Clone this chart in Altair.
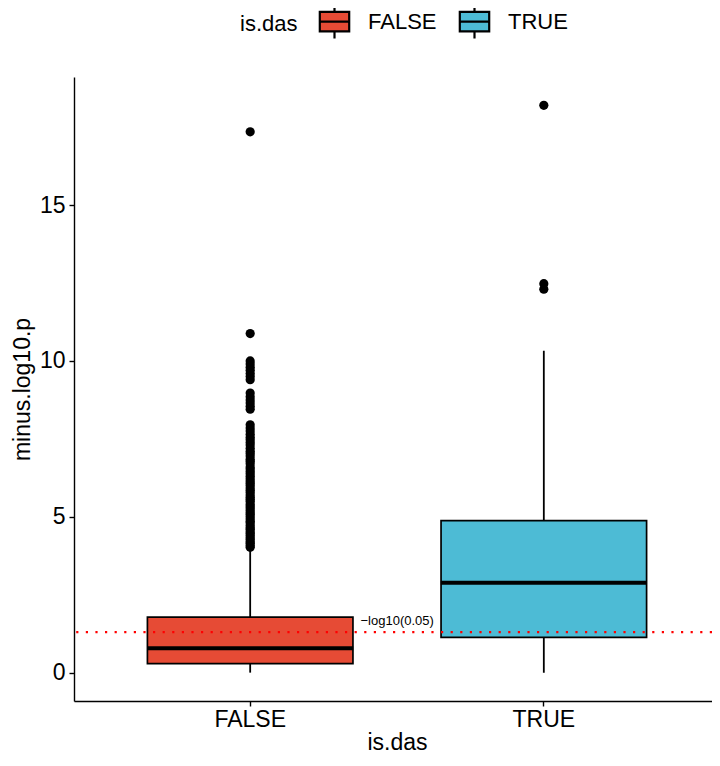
import altair as alt
import pandas as pd

# ---- data ----
groups = ["FALSE", "TRUE"]
colors = ["#E64B35", "#4DBBD5"]
lower_whisker = [0.0, 0.0]
q1 = [0.29, 1.13]
median = [0.78, 2.88]
q3 = [1.78, 4.88]
upper_whisker = [3.95, 10.33]

outliers_false = [4.02, 4.08, 4.15, 4.2, 4.27, 4.33, 4.4, 4.46, 4.52, 4.6, 4.65,
                  4.72, 4.8, 4.86, 4.93, 5.0, 5.07, 5.13, 5.2, 5.28, 5.35, 5.41,
                  5.5, 5.56, 5.63, 5.7, 5.78, 5.85, 5.92, 6.0, 6.08, 6.15, 6.22,
                  6.3, 6.38, 6.45, 6.53, 6.6, 6.7, 6.78, 6.85, 6.95, 7.03, 7.1,
                  7.2, 7.3, 7.38, 7.47, 7.55, 7.65, 7.75, 7.85, 7.95, 8.45, 8.55,
                  8.65, 8.75, 8.85, 8.97, 9.4, 9.5, 9.6, 9.7, 9.8, 9.9, 10.0,
                  10.88, 17.35]
outliers_true = [12.3, 12.48, 18.2]

threshold = [1.301]
threshold_label = ["\u2212log10(0.05)"]

y_domain = [-0.91, 19.11]
y_ticks = [0, 5, 10, 15]

# ---- tables ----
box_df = pd.DataFrame({
    "grp": groups, "lo": lower_whisker, "q1": q1, "med": median,
    "q3": q3, "hi": upper_whisker,
})
out_df = pd.DataFrame({
    "grp": ["FALSE"] * len(outliers_false) + ["TRUE"] * len(outliers_true),
    "val": outliers_false + outliers_true,
})
thr_df = pd.DataFrame({"grp": ["FALSE"], "y": threshold, "label": threshold_label})

font = "Liberation Sans"
FS = 23

x_scale = alt.Scale(domain=groups, range=[0, 646], paddingInner=0.3, paddingOuter=0.25)
y_scale = alt.Scale(domain=y_domain, nice=False, zero=False)

x_enc = alt.X("grp:N", scale=x_scale,
              axis=alt.Axis(title="is.das", labelAngle=0, labelPadding=2,
                            titlePadding=0))
y_axis = alt.Axis(title="minus.log10.p", values=y_ticks, grid=False, titlePadding=5)

whiskers = alt.Chart(box_df).mark_rule(color="black", strokeWidth=1.8).encode(
    x=x_enc,
    y=alt.Y("lo:Q", scale=y_scale, axis=y_axis),
    y2="hi:Q",
)

legend_path = "M-1.05,-0.7H1.05V0.7H-1.05Z M-1.05,0H1.05 M0,-0.7V-1.2 M0,0.7V1.2"

boxes = alt.Chart(box_df).mark_bar(stroke="black", strokeWidth=1.7, opacity=1).encode(
    x=x_enc,
    y=alt.Y("q1:Q", scale=y_scale),
    y2="q3:Q",
    color=alt.Color(
        "grp:N",
        scale=alt.Scale(domain=groups, range=colors),
        legend=alt.Legend(
            title="is.das", orient="none", direction="horizontal",
            legendX=166, legendY=-71, titleOrient="left",
            symbolType=legend_path, symbolSize=784,
            symbolStrokeColor="black", symbolStrokeWidth=2.2,
            symbolOpacity=1,
            labelOffset=18, columnPadding=18, titlePadding=21,
            labelFontSize=22, titleFontSize=22, labelFont=font, titleFont=font,
            titleFontWeight="normal", labelColor="black", titleColor="black",
            titleBaseline="middle",
        ),
    ),
)

medians = alt.Chart(box_df).mark_tick(color="black", thickness=4, size=206, opacity=1).encode(
    x=x_enc,
    y=alt.Y("med:Q", scale=y_scale),
)

points = alt.Chart(out_df).mark_circle(color="black", size=85, opacity=1).encode(
    x=x_enc,
    y=alt.Y("val:Q", scale=y_scale),
)

thr_line = alt.Chart(thr_df).mark_rule(color="#FF0000", strokeWidth=2.2,
                                        strokeDash=[2.2, 7.4]).encode(
    y=alt.Y("y:Q", scale=y_scale),
)

thr_text = alt.Chart(thr_df).mark_text(align="center", baseline="bottom", dx=147,
                                        dy=-4, fontSize=13, font=font,
                                        color="black").encode(
    x=x_enc,
    y=alt.Y("y:Q", scale=y_scale),
    text="label:N",
)

chart = alt.layer(whiskers, boxes, medians, points, thr_line, thr_text).properties(
    width=638, height=624,
    autosize=alt.AutoSizeParams(type="none"),
    padding={"left": 66, "top": 69, "right": 0, "bottom": 57},
).configure_view(stroke=None).configure_axis(
    domainColor="black", domainWidth=1.4, tickColor="black", tickWidth=1.4,
    tickSize=5, labelColor="black", titleColor="black", labelFont=font,
    titleFont=font, labelFontSize=FS, titleFontSize=FS,
    titleFontWeight="normal", labelPadding=4, grid=False,
)

chart.save("out.html", embed_options={"renderer": "svg", "actions": False})
